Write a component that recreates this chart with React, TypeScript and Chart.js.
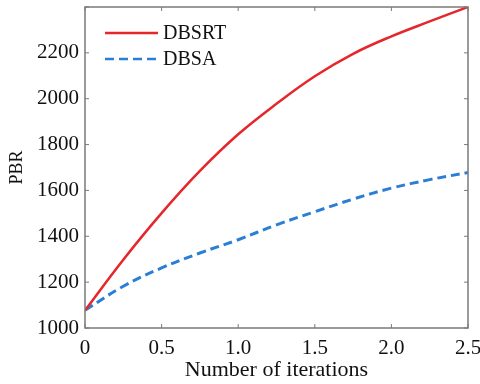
import React, { useEffect, useRef } from "react";
import { Chart, registerables } from "chart.js";

Chart.register(...registerables);

const iterations = [0, 0.25, 0.5, 0.75, 1.0, 1.25, 1.5, 1.75, 2.0, 2.25, 2.5];
const dbsrt = [1077, 1298, 1501, 1685, 1845, 1978, 2098, 2196, 2272, 2337, 2400];
const dbsa = [1077, 1182, 1262, 1327, 1385, 1450, 1507, 1562, 1610, 1647, 1678];
const seriesLabels = ["DBSRT", "DBSA"];
const seriesColors = ["#e5262b", "#2a7fd4"];
const xTicks = [0, 0.5, 1.0, 1.5, 2.0, 2.5];
const yMin = 1000;
const yMax = 2400;
const xTitle = "Number of iterations";
const yTitle = "PBR";

const FONT = "'Liberation Serif', serif";

const framePlugin = {
  id: "frameTicks",
  afterDatasetsDraw(chart: any) {
    const { ctx, chartArea } = chart;
    const { left, right, top, bottom } = chartArea;
    const xs = chart.scales.x;
    const ys = chart.scales.y;
    ctx.save();
    ctx.strokeStyle = "#7a7a7a";
    ctx.lineWidth = 1.5;
    ctx.strokeRect(left, top, right - left, bottom - top);
    ctx.lineWidth = 1;
    const tl = 4;
    xs.ticks.forEach((t: any) => {
      const px = xs.getPixelForValue(t.value);
      ctx.beginPath();
      ctx.moveTo(px, bottom);
      ctx.lineTo(px, bottom - tl);
      ctx.moveTo(px, top);
      ctx.lineTo(px, top + tl);
      ctx.stroke();
    });
    ys.ticks.forEach((t: any) => {
      const py = ys.getPixelForValue(t.value);
      ctx.beginPath();
      ctx.moveTo(left, py);
      ctx.lineTo(left + tl, py);
      ctx.moveTo(right, py);
      ctx.lineTo(right - tl, py);
      ctx.stroke();
    });
    // legend
    const lx0 = left + 20;
    const lx1 = left + 73;
    const rows = [33, 59];
    chart.data.datasets.forEach((ds: any, i: number) => {
      const y = rows[i];
      ctx.beginPath();
      ctx.strokeStyle = ds.borderColor;
      ctx.lineWidth = 2.5;
      ctx.setLineDash(ds.borderDash || []);
      ctx.moveTo(lx0, y);
      ctx.lineTo(lx1, y);
      ctx.stroke();
      ctx.setLineDash([]);
      ctx.fillStyle = "#111";
      ctx.font = `20px ${FONT}`;
      ctx.textBaseline = "middle";
      ctx.textAlign = "left";
      ctx.fillText(ds.label, lx1 + 5, y + 1);
    });
    ctx.restore();
  },
};

export default function App() {
  const ref = useRef<HTMLCanvasElement>(null);
  useEffect(() => {
    if (!ref.current) return;
    const chart = new Chart(ref.current, {
      type: "line",
      data: {
        datasets: [
          {
            label: seriesLabels[0],
            data: iterations.map((x, i) => ({ x, y: dbsrt[i] })),
            borderColor: seriesColors[0],
            borderWidth: 2.5,
            pointRadius: 0,
            tension: 0.4,
            fill: false,
          },
          {
            label: seriesLabels[1],
            data: iterations.map((x, i) => ({ x, y: dbsa[i] })),
            borderColor: seriesColors[1],
            borderWidth: 3,
            borderDash: [9, 5],
            pointRadius: 0,
            tension: 0.4,
            fill: false,
          },
        ],
      },
      plugins: [framePlugin],
      options: {
        animation: false,
        responsive: false,
        maintainAspectRatio: false,
        layout: { padding: { top: 7, right: 12, left: 0, bottom: 0 } },
        plugins: { legend: { display: false }, tooltip: { enabled: false } },
        scales: {
          x: {
            type: "linear",
            min: 0,
            max: 2.5,
            afterBuildTicks: (s: any) => {
              s.ticks = xTicks.map((v) => ({ value: v }));
            },
            afterFit: (s: any) => {
              s.height = 56;
              s.paddingRight = 0;
              s.paddingLeft = 0;
            },
            grid: { display: false, drawTicks: false },
            border: { display: false },
            ticks: {
              padding: 8,
              color: "#111",
              font: { family: FONT, size: 21 },
              maxRotation: 0,
              callback: (v: any) => (Number(v) === 0 ? "0" : Number(v).toFixed(1)),
            },
            title: {
              display: true,
              text: xTitle,
              color: "#111",
              font: { family: FONT, size: 22 },
              padding: { top: 0, bottom: 1 },
            },
          },
          y: {
            type: "linear",
            min: yMin,
            max: yMax,
            afterFit: (s: any) => {
              s.width = 85;
              s.paddingTop = 0;
              s.paddingBottom = 0;
            },
            grid: { display: false, drawTicks: false },
            border: { display: false },
            ticks: {
              stepSize: 200,
              padding: 6,
              color: "#111",
              font: { family: FONT, size: 21 },
              callback: (v: any) => (Number(v) >= yMax ? "" : String(v)),
            },
            title: {
              display: true,
              text: yTitle,
              color: "#111",
              font: { family: FONT, size: 18 },
              padding: { top: 6, bottom: 0 },
            },
          },
        },
      },
    } as any);
    return () => chart.destroy();
  }, []);
  return (
    <div style={{ position: "fixed", left: 0, top: 0, width: 480, height: 384, background: "#fff" }}>
      <canvas ref={ref} width={480} height={384} style={{ width: 480, height: 384 }} />
    </div>
  );
}
